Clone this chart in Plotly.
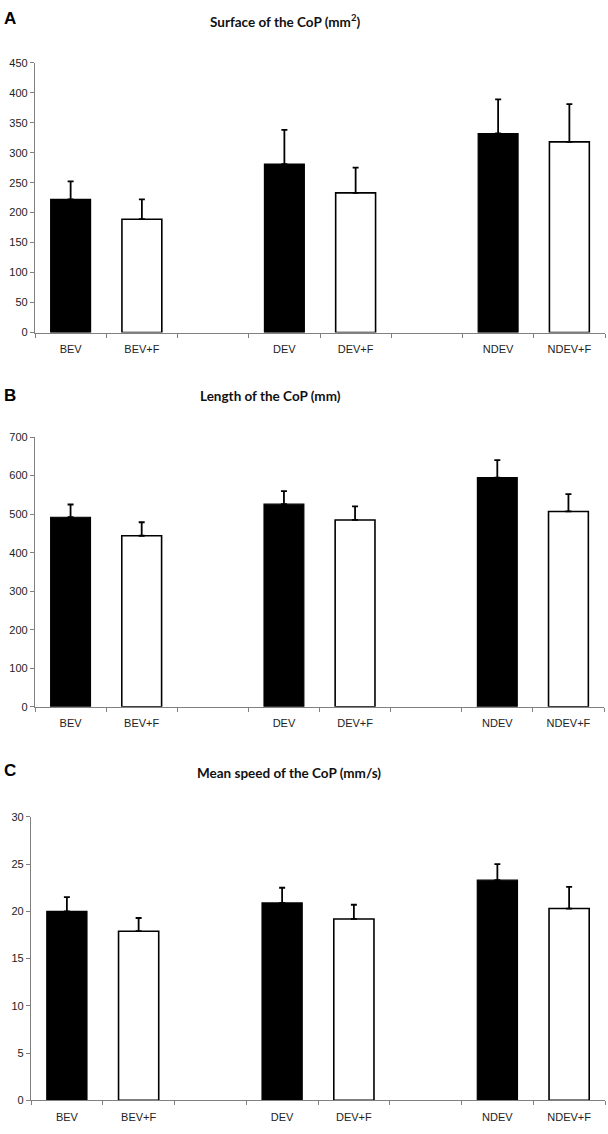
import plotly.graph_objects as go

# ---------------- data ----------------
categories = ["BEV", "BEV+F", "DEV", "DEV+F", "NDEV", "NDEV+F"]
no_feedback = ["BEV", "DEV", "NDEV"]
feedback = ["BEV+F", "DEV+F", "NDEV+F"]

surface_nf = [222, 281, 332]
surface_nf_err = [30, 57, 57]
surface_f = [189, 233, 318]
surface_f_err = [33, 42, 63]

length_nf = [492, 526, 595]
length_nf_err = [33, 34, 45]
length_f = [444, 485, 507]
length_f_err = [35, 35, 45]

speed_nf = [20.0, 20.9, 23.3]
speed_nf_err = [1.5, 1.6, 1.7]
speed_f = [17.9, 19.2, 20.3]
speed_f_err = [1.4, 1.5, 2.3]

titles = ["Surface of the CoP (mm<sup>2</sup>)", "Length of the CoP (mm)", "Mean speed of the CoP (mm/s)"]
letters = ["A", "B", "C"]
y_ranges = [[0, 450], [0, 700], [0, 30]]
y_dticks = [50, 100, 5]

# category slots: pairs of conditions separated by an empty slot
slot = {c: i + i // 2 for i, c in enumerate(categories)}
n_slots = len(categories) + len(categories) // 2 - 1
boundaries = [k - 0.5 for k in range(n_slots + 1)]

# ---------------- layout geometry (px) ----------------
W, H = 608, 1134
BAR_WIDTH = 0.56
panels = [
    dict(x0=35, x1=605, ytop=57.4, ybot=330, title=(285, 15), letter=(10, 13)),
    dict(x0=35, x1=604, ytop=435.7, ybot=708.3, title=(270, 394), letter=(10, 394)),
    dict(x0=31, x1=605, ytop=819.6, ybot=1106, title=(289, 775), letter=(10, 773)),
]


def px_x(x):
    return x / W


def px_y(y):
    return 1 - y / H


series = [
    (surface_nf, surface_nf_err, surface_f, surface_f_err),
    (length_nf, length_nf_err, length_f, length_f_err),
    (speed_nf, speed_nf_err, speed_f, speed_f_err),
]

fig = go.Figure()
annotations = []
layout_axes = {}
tick_font = dict(family="Liberation Sans, Arial", size=11, color="#222")
axis_gray = "#808080"

for i, (p, (nf, nfe, f, fe)) in enumerate(zip(panels, series)):
    n = i + 1
    xa = "x" if n == 1 else f"x{n}"
    ya = "y" if n == 1 else f"y{n}"
    err_style = dict(type="data", symmetric=False, color="black", thickness=1.8, width=3)
    fig.add_trace(go.Bar(
        x=[slot[c] for c in no_feedback], y=nf, xaxis=xa, yaxis=ya,
        width=BAR_WIDTH,
        marker=dict(color="black", line=dict(color="black", width=1.2)),
        error_y=dict(array=nfe, arrayminus=[0] * len(nfe), **err_style),
        showlegend=False, name="", hoverinfo="skip",
    ))
    fig.add_trace(go.Bar(
        x=[slot[c] for c in feedback], y=f, xaxis=xa, yaxis=ya,
        width=BAR_WIDTH,
        marker=dict(color="white", line=dict(color="black", width=1.6)),
        error_y=dict(array=fe, arrayminus=[0] * len(fe), **err_style),
        showlegend=False, name="", hoverinfo="skip",
    ))
    xkey = "xaxis" if n == 1 else f"xaxis{n}"
    ykey = "yaxis" if n == 1 else f"yaxis{n}"
    layout_axes[xkey] = dict(
        domain=[px_x(p["x0"]), px_x(p["x1"])],
        anchor=ya,
        range=[boundaries[0], boundaries[-1]],
        tickmode="array",
        tickvals=[slot[c] for c in categories],
        ticktext=categories,
        ticks="",
        minor=dict(tickmode="array", tickvals=boundaries, ticks="outside",
                   ticklen=4, tickcolor=axis_gray, showgrid=False),
        showline=True,
        linecolor=axis_gray,
        linewidth=1.2,
        showgrid=False,
        zeroline=False,
        tickfont=tick_font,
        ticklabelstandoff=6,
        fixedrange=True,
    )
    layout_axes[ykey] = dict(
        domain=[px_y(p["ybot"]), px_y(p["ytop"])],
        anchor=xa,
        range=y_ranges[i],
        dtick=y_dticks[i],
        tick0=0,
        ticks="outside",
        ticklen=4,
        tickcolor=axis_gray,
        showline=True,
        linecolor=axis_gray,
        linewidth=1.2,
        showgrid=False,
        zeroline=False,
        tickfont=tick_font,
        fixedrange=True,
    )
    annotations.append(dict(
        text=f"<b>{titles[i]}</b>", xref="paper", yref="paper",
        x=px_x(p["title"][0]), y=px_y(p["title"][1]),
        xanchor="center", yanchor="middle", showarrow=False,
        font=dict(family="Lato, Open Sans", size=13.5, color="#111"),
    ))
    annotations.append(dict(
        text=f"<b>{letters[i]}</b>", xref="paper", yref="paper",
        x=px_x(p["letter"][0]), y=px_y(p["letter"][1]),
        xanchor="center", yanchor="middle", showarrow=False,
        font=dict(family="Liberation Sans, Arial", size=17, color="black"),
    ))

fig.update_layout(
    width=W, height=H,
    margin=dict(l=0, r=0, t=0, b=0),
    paper_bgcolor="white",
    plot_bgcolor="white",
    barmode="overlay",
    annotations=annotations,
    **layout_axes,
)

# remove the default 8px page margin so the 608x1134 figure fills the window exactly
fig.write_html("out.html", config={"displayModeBar": False},
               post_script="document.body.style.margin='0';")
